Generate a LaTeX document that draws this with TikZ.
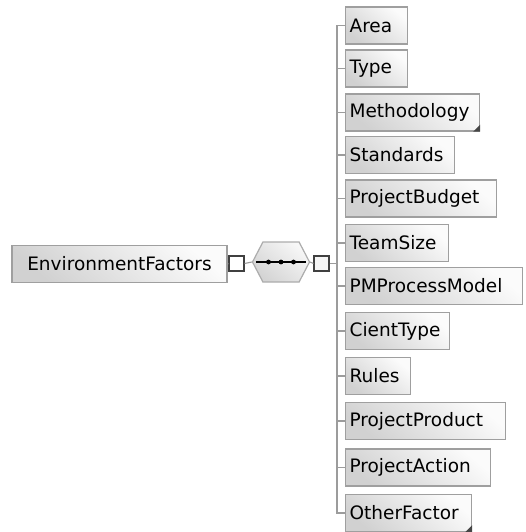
\documentclass[tikz,border=0pt]{standalone}
\usepackage{fontspec}
\setmainfont{DejaVu Sans}
\usetikzlibrary{shapes.symbols}

\tikzset{
  elem/.style={draw=gray!75, line width=1.2pt, top color=white!97!gray, bottom color=gray!36,
    shading angle=-40, inner xsep=4pt, inner ysep=0pt, minimum height=37pt,
    font=\fontsize{18.5}{22}\selectfont, align=left},
  conn/.style={draw=gray!78, line width=1.1pt},
  port/.style={draw=black!75, line width=1.2pt, minimum size=15pt, inner sep=0pt},
  corner/.style={fill=gray!55!black},
}

\begin{document}
\begin{tikzpicture}[x=1pt, y=-1pt]
  \useasboundingbox (0,0) rectangle (525,532);

  \node[elem, minimum width=215pt, align=center] (env) at (119.5,264) {EnvironmentFactors};
  \node[port, fill=white] (lport) at (236.5,263.5) {};
  \node[signal, signal to=west and east, signal pointer angle=125, draw=gray!65,
    line width=1.2pt, top color=white!94!gray, bottom color=gray!34, shading angle=-40,
    minimum width=57pt, minimum height=40pt] (seq) at (281,262) {};
  \node[port, fill=gray!8] (rport) at (321.5,263.5) {};
  \coordinate (bus) at (337,0);

  % sequence mark
  \draw[line width=1.4pt] ([xshift=4pt]seq.west) -- ([xshift=-4pt]seq.east);
  \foreach \dx in {-12.5,0,12.5}
    \fill ([xshift=\dx pt]seq.center) circle (2.4pt);

  % child elements
  \foreach \i/\name/\tw/\y in {1/Area/54/25.5, 2/Type/54/68.5, 3/Methodology/126/112.5,
      4/Standards/101/155, 5/ProjectBudget/143/198.5, 6/TeamSize/95/243,
      7/PMProcessModel/169/286, 8/CientType/96/331, 9/Rules/57/376,
      10/ProjectProduct/152/421, 11/ProjectAction/137/467.5, 12/OtherFactor/118/513}
    \node[elem, anchor=west, text width=\tw pt] (e\i) at (345,\y) {\name};

  \fill[corner] (e3.south east) -- ++(-7,0) -- ++(7,-7) -- cycle;
  \fill[corner] (e12.south east) -- ++(-7,0) -- ++(7,-7) -- cycle;

  \draw[conn] (env.east) -- (lport.west);
  \draw[conn] (lport.east) -- (seq.west);
  \draw[conn] (seq.east) -- (rport.west);
  \draw[conn] (rport.east) -- (rport.east -| bus);
  \draw[conn] (e1.west) -- (e1.west -| bus) -- (e12.west -| bus) -- (e12.west);
  \foreach \i in {2,...,11}
    \draw[conn] (e\i.west) -- (e\i.west -| bus);
\end{tikzpicture}
\end{document}
